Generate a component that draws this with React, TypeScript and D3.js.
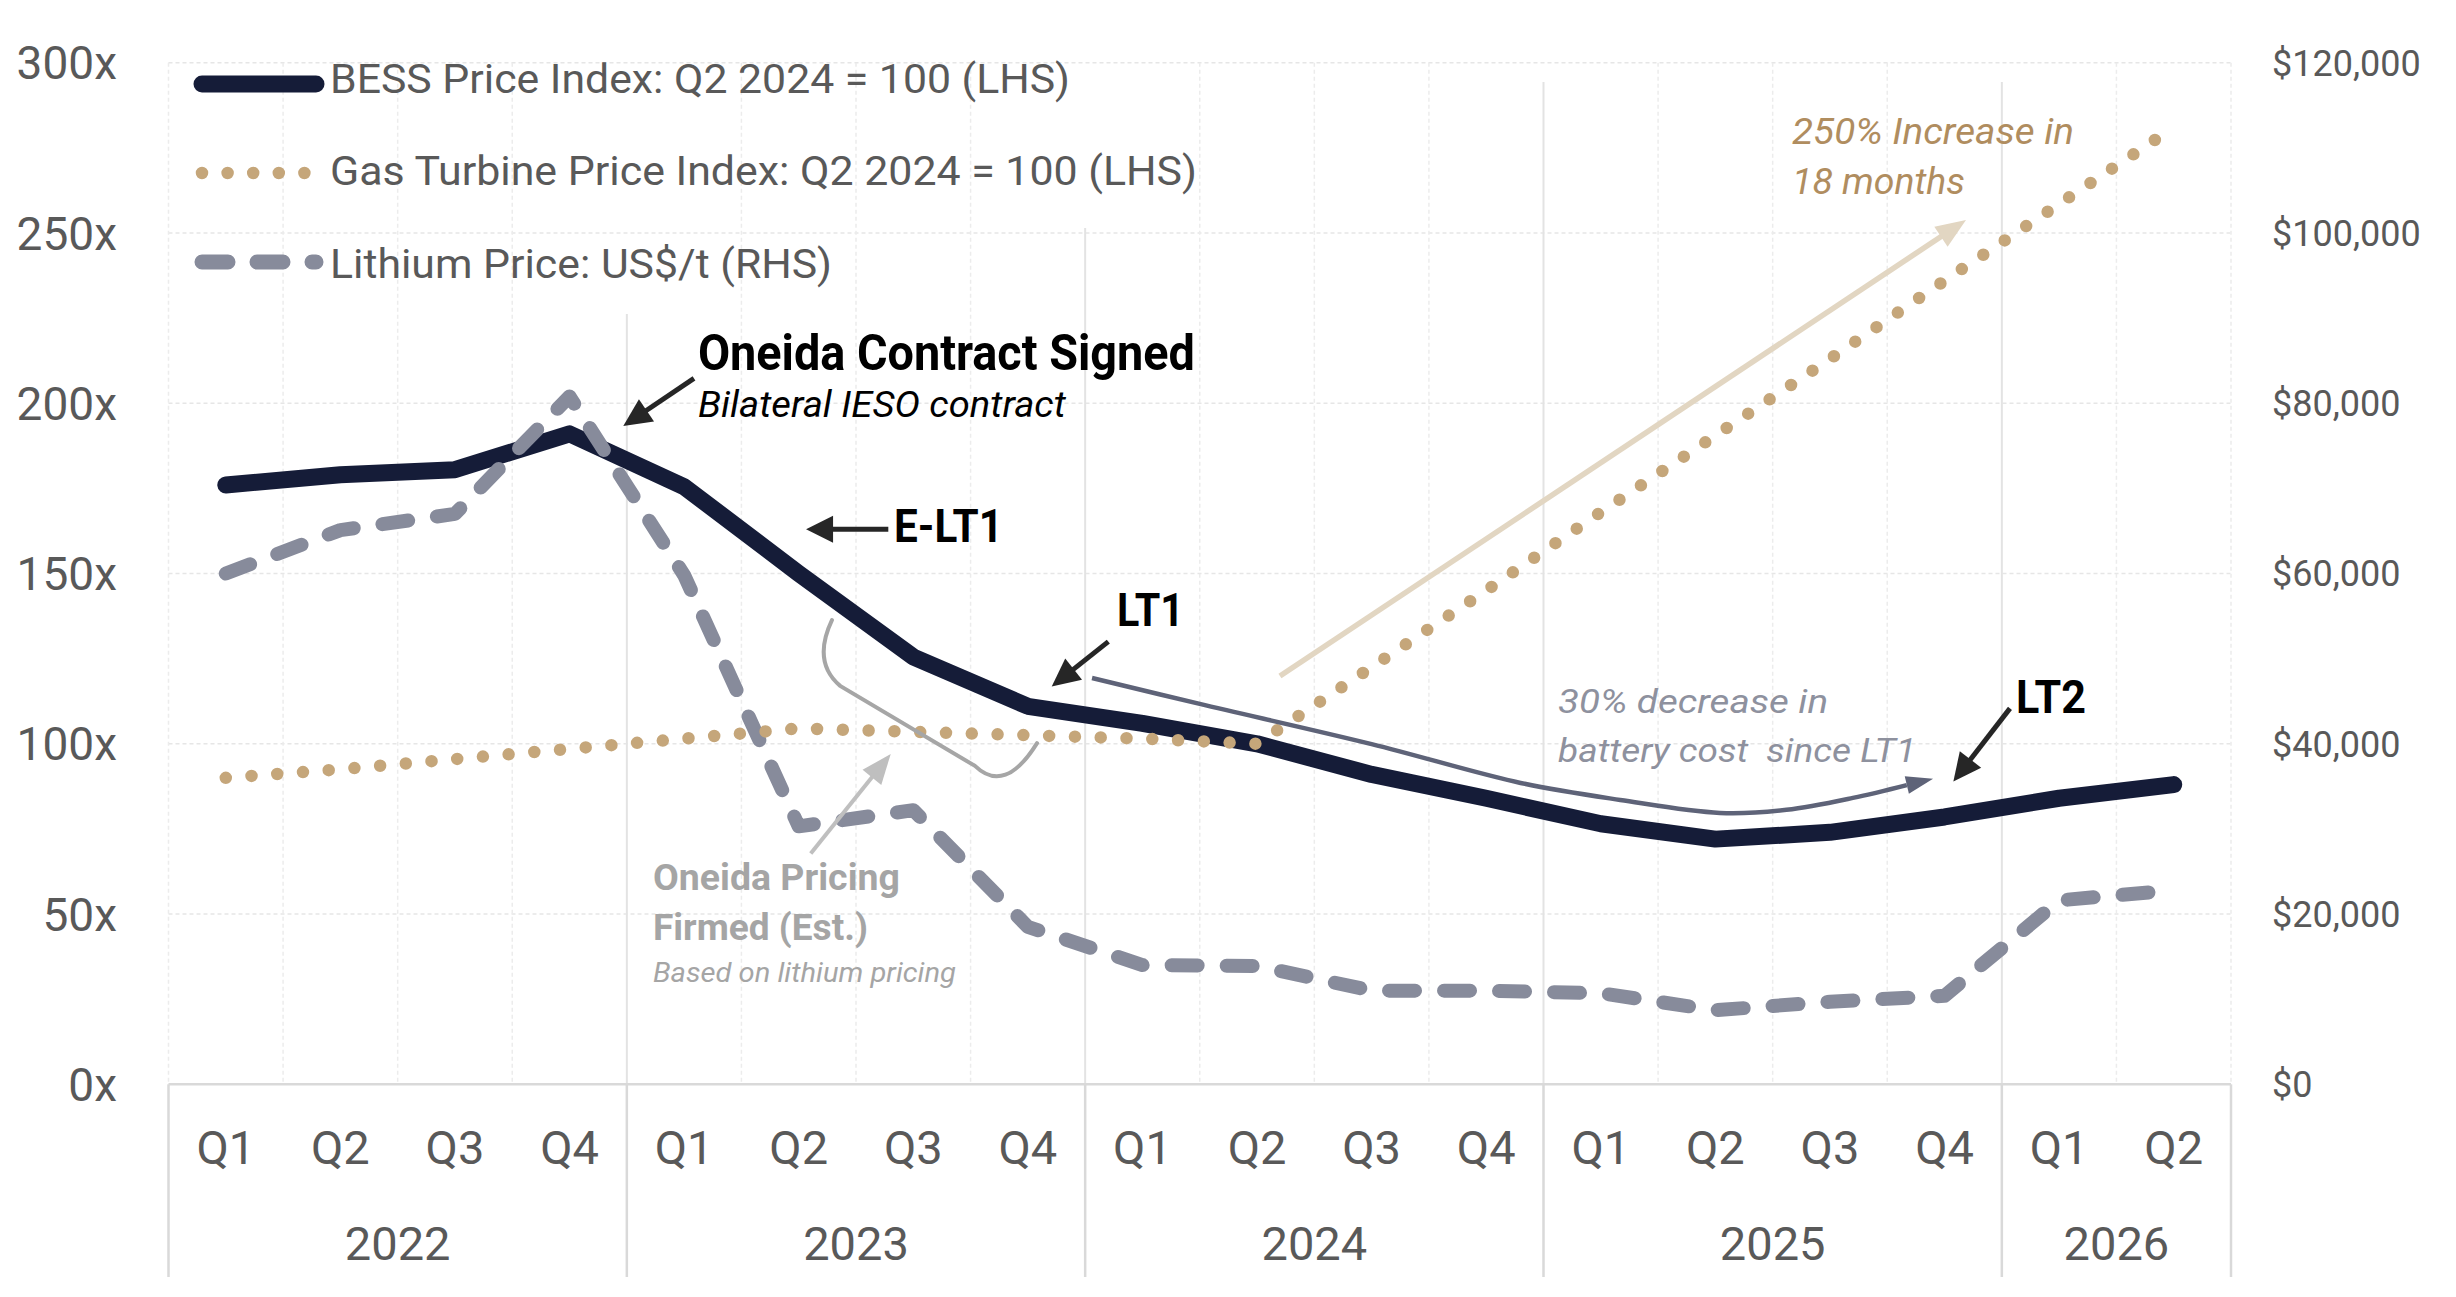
import React from 'react';
import * as d3 from 'd3';

// ---- data ----
const quarterLabels = ['Q1', 'Q2', 'Q3', 'Q4', 'Q1', 'Q2', 'Q3', 'Q4', 'Q1', 'Q2', 'Q3', 'Q4', 'Q1', 'Q2', 'Q3', 'Q4', 'Q1', 'Q2'];
const quarterYears = ['2022', '2022', '2022', '2022', '2023', '2023', '2023', '2023', '2024', '2024', '2024', '2024', '2025', '2025', '2025', '2025', '2026', '2026'];

// BESS Price Index: Q2 2024 = 100 (LHS)
const bessIndex = [176, 179, 180.5, 191, 175.5, 150, 125.5, 111, 106, 100, 91, 84, 76.5, 72, 74, 78.5, 84, 88];
// Gas Turbine Price Index: Q2 2024 = 100 (LHS)
const gasIndex = [90, 92.5, 95.5, 98.5, 101.5, 104.5, 103.5, 102.5, 101.5, 100, 122.5, 145, 168, 190.5, 213, 236, 258.5, 281];
// Lithium Price: US$/t (RHS)
const lithiumPrice = [60000, 65100, 67000, 80800, 59800, 30300, 32200, 18500, 14000, 13900, 11000, 11000, 10700, 8700, 9700, 10400, 21600, 22800];

const leftTicks = [0, 50, 100, 150, 200, 250, 300];
const rightTicks = [0, 20000, 40000, 60000, 80000, 100000, 120000];

const legendLabels = [
  'BESS Price Index: Q2 2024 = 100 (LHS)',
  'Gas Turbine Price Index: Q2 2024 = 100 (LHS)',
  'Lithium Price: US$/t (RHS)',
];

// ---- layout ----
const W = 2456;
const H = 1297;
const left = 168.5;
const right = 2231;
const top = 62.7;
const bottom = 1084.3;
const axisFloor = 1277;
const FONT = "Roboto, 'Liberation Sans', Arial, sans-serif";

const navy = '#151c38';
const tan = '#c5a67a';
const slateGrey = '#878b9b';
const labelGrey = '#595959';

const keys = quarterLabels.map((q, i) => `${quarterYears[i]} ${q}`);
const x = d3.scaleBand<string>().domain(keys).range([left, right]).padding(0);
const xc = (i: number) => (x(keys[i]) as number) + x.bandwidth() / 2;
const yL = d3.scaleLinear().domain([0, 300]).range([bottom, top]);
const yR = d3.scaleLinear().domain([0, 120000]).range([bottom, top]);
// annotation space: u in quarters from the left edge, v in left-axis units
const xu = d3.scaleLinear().domain([0, 18]).range([left, right]);

const years = Array.from(new Set(quarterYears));
const yearStart = years.map((y) => quarterYears.indexOf(y));
const yearCount = years.map((y) => quarterYears.filter((q) => q === y).length);
// the first two year dividers are hidden behind the legend block near the top
const yearLineTop = [314, 228, 82, 82];

const annotationTexts = [
  { lines: ['Oneida Contract Signed'], u: 4.62, v: 209.8, size: 50, weight: 700, italic: false, color: '#000', lens: [497], gap: 0 },
  { lines: ['Bilateral IESO contract'], u: 4.62, v: 196.0, size: 36, weight: 400, italic: true, color: '#000', lens: [368], gap: 0 },
  { lines: ['E-LT1'], u: 6.332, v: 159.3, size: 47, weight: 700, italic: false, color: '#000', lens: [109], gap: 0 },
  { lines: ['LT1'], u: 8.278, v: 134.6, size: 47, weight: 700, italic: false, color: '#000', lens: [67], gap: 0 },
  { lines: ['LT2'], u: 16.124, v: 109.0, size: 47, weight: 700, italic: false, color: '#000', lens: [70], gap: 0 },
  { lines: ['30% decrease in', 'battery cost  since LT1'], u: 12.127, v: 109.0, size: 34, weight: 400, italic: true, color: '#8e919e', lens: [270, 358], gap: 14.4 },
  { lines: ['250% Increase in', '18 months'], u: 14.169, v: 276.1, size: 37, weight: 400, italic: true, color: '#b08d5f', lens: [282, 173], gap: 14.7 },
  { lines: ['Oneida Pricing', 'Firmed (Est.)'], u: 4.228, v: 57.1, size: 36, weight: 700, italic: false, color: '#a5a5a5', lens: [247, 215], gap: 14.7 },
  { lines: ['Based on lithium pricing'], u: 4.228, v: 30.0, size: 28, weight: 400, italic: true, color: '#a5a5a5', lens: [303], gap: 0 },
];

const annotationArrows = [
  { u1: 4.586, v1: 207.3, u2: 3.969, v2: 193.3, color: '#262626', width: 5, head: 28, headW: 27 },
  { u1: 6.282, v1: 163.0, u2: 5.564, v2: 163.0, color: '#262626', width: 5, head: 27, headW: 27 },
  { u1: 8.202, v1: 130.0, u2: 7.708, v2: 116.8, color: '#262626', width: 5, head: 28, headW: 27 },
  { u1: 16.071, v1: 110.4, u2: 15.577, v2: 88.9, color: '#262626', width: 5, head: 28, headW: 27 },
  { u1: 9.7, v1: 119.9, u2: 15.687, v2: 253.8, color: '#e2d6c2', width: 5.5, head: 30, headW: 24 },
  { u1: 5.605, v1: 67.8, u2: 6.303, v2: 97.0, color: '#bfbfbf', width: 4, head: 30, headW: 24 },
];

// slate curved arrow, "30% decrease" (u, v)
const decreaseCurve: [number, number][] = [
  [8.06, 119.3], [9.0, 111.7], [10.5, 99.9], [11.8, 88.5], [12.67, 83.5], [13.54, 79.7], [14.12, 80.6], [14.7, 84.1], [15.4, 89.7],
];

const px = (u: number) => xu(u);
const py = (v: number) => yL(v);

function Arrow(p: { x1: number; y1: number; x2: number; y2: number; color: string; width: number; head: number; headW: number }) {
  const dx = p.x2 - p.x1;
  const dy = p.y2 - p.y1;
  const len = Math.hypot(dx, dy);
  const ux = dx / len;
  const uy = dy / len;
  const bx = p.x2 - ux * p.head;
  const by = p.y2 - uy * p.head;
  const nx = -uy * (p.headW / 2);
  const ny = ux * (p.headW / 2);
  return (
    <g>
      <line x1={p.x1} y1={p.y1} x2={bx + ux * 2} y2={by + uy * 2} stroke={p.color} strokeWidth={p.width} />
      <polygon points={`${p.x2},${p.y2} ${bx + nx},${by + ny} ${bx - nx},${by - ny}`} fill={p.color} />
    </g>
  );
}

const App = () => {
  const lineL = d3
    .line<number>()
    .x((_, i) => xc(i))
    .y((d) => yL(d));
  const lineR = d3
    .line<number>()
    .x((_, i) => xc(i))
    .y((d) => yR(d));

  // curved annotation arrow: stop the curve at the base of the head
  const cPts = decreaseCurve.map(([u, v]) => [px(u), py(v)] as [number, number]);
  const tip = cPts[cPts.length - 1];
  const prev = cPts[cPts.length - 2];
  const dl = Math.hypot(tip[0] - prev[0], tip[1] - prev[1]);
  const dirx = (tip[0] - prev[0]) / dl;
  const diry = (tip[1] - prev[1]) / dl;
  const headLen = 27;
  const headW = 18;
  const base: [number, number] = [tip[0] - dirx * headLen, tip[1] - diry * headLen];
  const curvePath = d3.line().curve(d3.curveCatmullRom.alpha(0.5))([...cPts.slice(0, -1), base]) as string;

  // bracket next to the Oneida pricing note
  const br = d3.path();
  br.moveTo(px(5.79), py(136.3));
  br.quadraticCurveTo(px(5.616), py(124.0), px(5.862), py(117.0));
  br.lineTo(px(7.038), py(93.5));
  br.quadraticCurveTo(px(7.3), py(85.0), px(7.58), py(100.2));

  const legendY = [84, 173, 262];
  const legendTextY = [93, 185, 278];
  const legendTextLen = [740, 867, 502];
  const legendX1 = 202;
  const legendX2 = 316;

  return (
    <svg width={W} height={H} style={{ position: 'absolute', left: 0, top: 0, display: 'block', background: '#fff' }} fontFamily={FONT}>
      <rect width={W} height={H} fill="#fff" />

      {/* horizontal grid */}
      {leftTicks.slice(1).map((t) => (
        <line key={t} x1={left} x2={right} y1={yL(t)} y2={yL(t)} stroke="#e6e6e6" strokeWidth={1.5} strokeDasharray="4 3" />
      ))}
      {/* quarter grid */}
      {d3.range(0, 19).filter((k) => !yearStart.includes(k) || k === 0).map((k) => (
        <line key={k} x1={xu(k)} x2={xu(k)} y1={top} y2={bottom} stroke="#ececec" strokeWidth={1.5} strokeDasharray="4 3" />
      ))}
      {/* year dividers inside plot */}
      {yearStart.slice(1).map((k, i) => (
        <line key={k} x1={xu(k)} x2={xu(k)} y1={yearLineTop[i]} y2={bottom} stroke="#e3e3e3" strokeWidth={2} />
      ))}

      {/* category axis */}
      <line x1={left} x2={right} y1={bottom} y2={bottom} stroke="#d9d9d9" strokeWidth={2.5} />
      {[...yearStart, 18].map((k) => (
        <line key={k} x1={xu(k)} x2={xu(k)} y1={bottom} y2={axisFloor} stroke="#d9d9d9" strokeWidth={2.5} />
      ))}
      {quarterLabels.map((q, i) => (
        <text key={i} x={xc(i)} y={1164} textAnchor="middle" fontSize={47} fill={labelGrey}>
          {q}
        </text>
      ))}
      {years.map((y, i) => (
        <text key={y} x={xu(yearStart[i] + yearCount[i] / 2)} y={1260} textAnchor="middle" fontSize={47} fill={labelGrey}>
          {y}
        </text>
      ))}

      {/* value axes */}
      {leftTicks.map((t) => (
        <text key={t} x={117} y={yL(t)} dy="0.36em" textAnchor="end" fontSize={46} fill={labelGrey}>
          {`${t}x`}
        </text>
      ))}
      {rightTicks.map((t) => (
        <text key={t} x={2272} y={yR(t)} dy="0.36em" textAnchor="start" fontSize={36} fill={labelGrey}>
          {d3.format('$,')(t)}
        </text>
      ))}

      {/* series */}
      <path d={lineL(bessIndex) as string} fill="none" stroke={navy} strokeWidth={17} strokeLinejoin="round" strokeLinecap="round" />
      <path d={lineR(lithiumPrice) as string} fill="none" stroke={slateGrey} strokeWidth={14} strokeDasharray="26 29" strokeLinecap="round" strokeLinejoin="round" />
      <path d={lineL(gasIndex) as string} fill="none" stroke={tan} strokeWidth={12.5} strokeDasharray="0 25.8" strokeLinecap="round" />

      {/* legend */}
      <line x1={legendX1} x2={legendX2} y1={legendY[0]} y2={legendY[0]} stroke={navy} strokeWidth={17} strokeLinecap="round" />
      <line x1={legendX1} x2={legendX2} y1={legendY[1]} y2={legendY[1]} stroke={tan} strokeWidth={12.5} strokeDasharray="0 25.6" strokeLinecap="round" />
      <line x1={legendX1} x2={legendX2} y1={legendY[2]} y2={legendY[2]} stroke={slateGrey} strokeWidth={15} strokeDasharray="26 29" strokeLinecap="round" />
      {legendLabels.map((l, i) => (
        <text key={l} x={330} y={legendTextY[i]} fontSize={41} fill={labelGrey} textLength={legendTextLen[i]} lengthAdjust="spacingAndGlyphs">
          {l}
        </text>
      ))}

      {/* annotations */}
      <path d={br.toString()} fill="none" stroke="#a6a6a6" strokeWidth={4} strokeLinecap="round" />
      <path d={curvePath} fill="none" stroke="#5e6378" strokeWidth={4.5} />
      <polygon
        points={`${tip[0]},${tip[1]} ${base[0] - diry * headW / 2},${base[1] + dirx * headW / 2} ${base[0] + diry * headW / 2},${base[1] - dirx * headW / 2}`}
        fill="#5e6378"
      />
      {annotationArrows.map((a, i) => (
        <Arrow key={i} x1={px(a.u1)} y1={py(a.v1)} x2={px(a.u2)} y2={py(a.v2)} color={a.color} width={a.width} head={a.head} headW={a.headW} />
      ))}
      {annotationTexts.map((a, i) =>
        a.lines.map((l, j) => (
          <text
            key={`${i}-${j}`}
            x={px(a.u)}
            y={py(a.v - j * a.gap)}
            fontSize={a.size}
            fontWeight={a.weight}
            fontStyle={a.italic ? 'italic' : 'normal'}
            fill={a.color}
            textLength={a.lens[j]}
            lengthAdjust="spacingAndGlyphs"
            style={{ whiteSpace: 'pre' }}
          >
            {l}
          </text>
        ))
      )}
    </svg>
  );
};

export default App;
